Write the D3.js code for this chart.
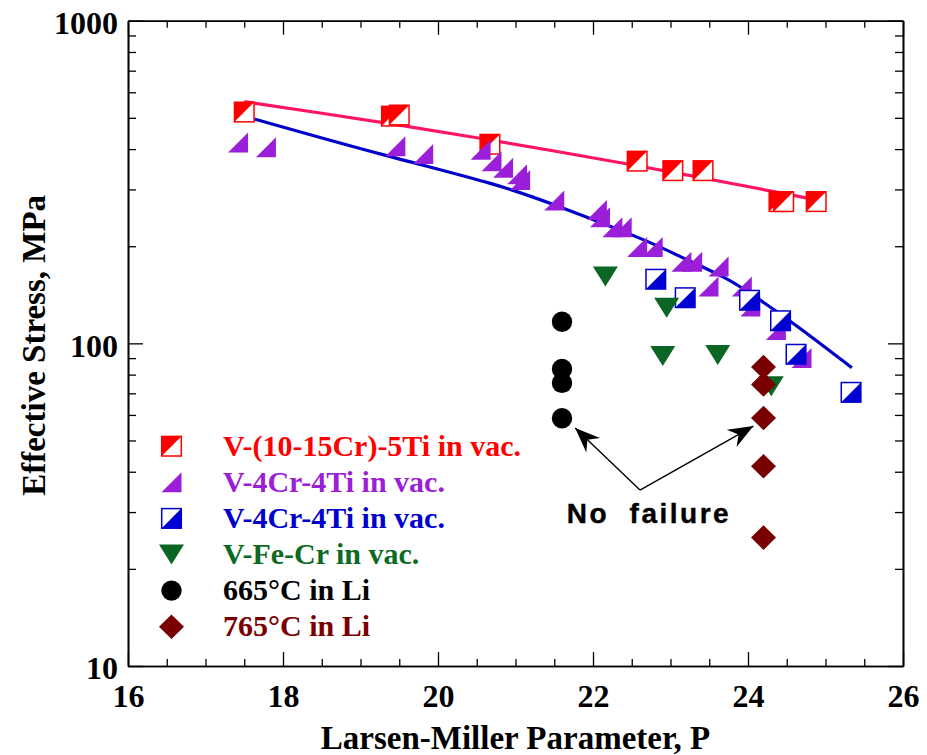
<!DOCTYPE html>
<html>
<head>
<meta charset="utf-8">
<script src="https://cdn.jsdelivr.net/npm/d3@7/dist/d3.min.js"></script>
<style>
  body { margin: 0; background: #fff; }
  svg { display: block; }
</style>
</head>
<body>
<svg id="chart" width="927" height="755"></svg>
<script>
// ---- Data: Larsen-Miller parameter (P) vs effective stress (MPa) ----
const redP   = [17.50, 19.40, 19.50, 20.67, 22.57, 23.03, 23.42, 24.40, 24.46, 24.88];
const redS   = [521, 506, 510, 414, 367, 343, 343, 275, 275, 275];

const purpleP = [17.42, 17.78, 19.45, 19.81, 20.55, 20.69, 20.84, 21.02, 21.06, 21.50,
                 22.05, 22.09, 22.25, 22.37, 22.57, 22.77, 23.14, 23.28, 23.62, 23.49,
                 23.92, 24.03, 24.36, 24.69];
const purpleS = [419, 405, 408, 386, 398, 367, 350, 334, 321, 277,
                 259, 246, 229, 229, 199, 199, 179, 179, 173, 150,
                 150, 130, 110, 90];

const blueP  = [22.81, 23.19, 24.02, 24.42, 24.62, 25.33];
const blueS  = [158, 138.5, 136, 117.5, 92.5, 70.5];

const greenP = [22.16, 22.95, 22.90, 23.61, 24.30];
const greenS = [161, 129, 91.4, 92, 73.6];

const liLowP = [21.60, 21.60, 21.60, 21.60];          // 665°C in Li
const liLowS = [116.7, 83.3, 75.4, 58.6];

const liHighP = [24.20, 24.20, 24.20, 24.20, 24.20];  // 765°C in Li
const liHighS = [84.5, 74.6, 58.7, 41.6, 25.0];

// fitted trend curves
const redFitP  = [17.5, 18.5, 19.5, 20.5, 21.5, 22.5, 23.5, 24.5, 24.9];
const redFitS  = [561, 517, 475, 434, 395, 358, 323, 290, 278];
const blueFitP = [17.63, 19.27, 20.80, 21.45, 22.69, 23.16, 23.73, 23.90, 24.54, 25.34];
const blueFitS = [496, 384, 310, 272, 209, 184, 159, 150, 118, 84];

// axes
const xMajorTicks = [16, 18, 20, 22, 24, 26];
const xMinorTicks = d3.range(16.5, 26, 0.5).filter(v => v % 2 !== 0);
const yMajorTicks = [10, 100, 1000];
const yMinorTicks = [20, 30, 40, 50, 60, 70, 80, 90, 200, 300, 400, 500, 600, 700, 800, 900];

// legend
const legendLabels = ["V-(10-15Cr)-5Ti in vac.", "V-4Cr-4Ti in vac.", "V-4Cr-4Ti in vac.",
                      "V-Fe-Cr in vac.", "665\u00B0C in Li", "765\u00B0C in Li"];
const legendColors = ["#ff0000", "#9b1fd6", "#0000cc", "#0c6a22", "#000000", "#780000"];
const markerColors = ["#ff0000", "#9b1fd9", "#0000d2", "#0b6623", "#000000", "#780000"];
const markerTypes  = ["squareUL", "rightTri", "squareLR", "downTri", "circle", "diamond"];

// annotation
const noteText = "No  failure";
const noteP = 21.66, noteS = 27.7;
const arrowFromP = 22.606, arrowFromS = 35.1;
const arrowTipsP = [21.77, 24.07];
const arrowTipsS = [54.7, 55.4];

// ---- Layout ----
const svg = d3.select("#chart");
const plotL = 128, plotR = 903, plotT = 20.7, plotB = 666;
const x = d3.scaleLinear().domain([16, 26]).range([plotL, plotR]);
const y = d3.scaleLog().domain([10, 1000]).range([plotB, plotT]);

const fontSerif = '"Liberation Serif", "Times New Roman", serif';

// ---- Axes (ticks point inward on all four sides) ----
function styleAxis(g) {
  g.selectAll("path.domain").attr("stroke", "#000").attr("stroke-width", 1.6);
  g.selectAll(".tick line").attr("stroke", "#000").attr("stroke-width", 1.3);
}

svg.append("g").attr("transform", `translate(0,${plotB})`)
  .call(d3.axisBottom(x).tickValues(xMinorTicks).tickSize(-7).tickSizeOuter(0).tickFormat(""))
  .call(styleAxis);
const xb = svg.append("g").attr("transform", `translate(0,${plotB})`)
  .call(d3.axisBottom(x).tickValues(xMajorTicks).tickSize(-14).tickSizeOuter(0).tickFormat(d3.format("d")))
  .call(styleAxis);
xb.selectAll(".tick text")
  .attr("y", 41).attr("dy", 0)
  .attr("font-family", fontSerif).attr("font-weight", "bold").attr("font-size", 32).attr("fill", "#000");

svg.append("g").attr("transform", `translate(0,${plotT})`)
  .call(d3.axisTop(x).tickValues(xMinorTicks).tickSize(-7).tickSizeOuter(0).tickFormat(""))
  .call(styleAxis);
svg.append("g").attr("transform", `translate(0,${plotT})`)
  .call(d3.axisTop(x).tickValues(xMajorTicks).tickSize(-14).tickSizeOuter(0).tickFormat(""))
  .call(styleAxis);

svg.append("g").attr("transform", `translate(${plotL},0)`)
  .call(d3.axisLeft(y).tickValues(yMinorTicks).tickSize(-8).tickSizeOuter(0).tickFormat(""))
  .call(styleAxis);
const yl = svg.append("g").attr("transform", `translate(${plotL},0)`)
  .call(d3.axisLeft(y).tickValues(yMajorTicks).tickSize(-15).tickSizeOuter(0).tickPadding(10).tickFormat(d3.format("d")))
  .call(styleAxis);
yl.selectAll(".tick text")
  .attr("dy", "0.4em")
  .attr("font-family", fontSerif).attr("font-weight", "bold").attr("font-size", 32).attr("fill", "#000");

svg.append("g").attr("transform", `translate(${plotR},0)`)
  .call(d3.axisRight(y).tickValues(yMinorTicks).tickSize(-8).tickSizeOuter(0).tickFormat(""))
  .call(styleAxis);
svg.append("g").attr("transform", `translate(${plotR},0)`)
  .call(d3.axisRight(y).tickValues(yMajorTicks).tickSize(-15).tickSizeOuter(0).tickFormat(""))
  .call(styleAxis);

// axis titles
svg.append("text")
  .attr("x", (plotL + plotR) / 2).attr("y", 749)
  .attr("text-anchor", "middle")
  .attr("font-family", fontSerif).attr("font-weight", "bold").attr("font-size", 33)
  .text("Larsen-Miller Parameter, P");

svg.append("text")
  .attr("transform", `translate(45,${(plotT + plotB) / 2 + 2}) rotate(-90)`)
  .attr("text-anchor", "middle")
  .attr("font-family", fontSerif).attr("font-weight", "bold").attr("font-size", 33)
  .text("Effective Stress, MPa");

// ---- Trend curves ----
const line = d3.line().x(d => x(d[0])).y(d => y(d[1])).curve(d3.curveBasis);
svg.append("path")
  .datum(d3.zip(redFitP, redFitS))
  .attr("d", line).attr("fill", "none").attr("stroke", "#ff1466").attr("stroke-width", 3.2);
svg.append("path")
  .datum(d3.zip(blueFitP, blueFitS))
  .attr("d", line).attr("fill", "none").attr("stroke", "#0000cc").attr("stroke-width", 3.2);

// ---- Marker shapes ----
function drawMarker(g, type, color) {
  const h = 9.8;
  if (type === "squareUL" || type === "squareLR") {
    g.append("rect").attr("x", -h).attr("y", -h).attr("width", 2 * h).attr("height", 2 * h)
      .attr("fill", "#fff").attr("stroke", color).attr("stroke-width", 1.5);
    const p = type === "squareUL"
      ? `M${-h},${-h}L${h},${-h}L${-h},${h}Z`
      : `M${h},${-h}L${h},${h}L${-h},${h}Z`;
    g.append("path").attr("d", p).attr("fill", color);
  } else if (type === "rightTri") {
    g.append("path").attr("d", "M-10,10L10,10L10,-10Z").attr("fill", color);
  } else if (type === "downTri") {
    g.append("path").attr("d", "M-12.5,-10L12.5,-10L0,10Z").attr("fill", color);
  } else if (type === "circle") {
    g.append("circle").attr("r", 10.2).attr("fill", color);
  } else if (type === "diamond") {
    g.append("path").attr("d", "M0,-12.3L12.5,0L0,12.3L-12.5,0Z").attr("fill", color);
  }
}

function drawSeries(P, S, type, color) {
  const g = svg.append("g");
  d3.zip(P, S).forEach(([p, s]) => {
    const m = g.append("g").attr("transform", `translate(${x(p)},${y(s)})`);
    drawMarker(m, type, color);
  });
}

drawSeries(redP, redS, markerTypes[0], markerColors[0]);
drawSeries(purpleP, purpleS, markerTypes[1], markerColors[1]);
drawSeries(blueP, blueS, markerTypes[2], markerColors[2]);
drawSeries(greenP, greenS, markerTypes[3], markerColors[3]);
drawSeries(liLowP, liLowS, markerTypes[4], markerColors[4]);
drawSeries(liHighP, liHighS, markerTypes[5], markerColors[5]);

// ---- Legend ----
const legend = svg.append("g");
legendLabels.forEach((label, i) => {
  const base = 455.7 + i * 36.1;
  const m = legend.append("g").attr("transform", `translate(171.5,${base - 9.5})`);
  drawMarker(m, markerTypes[i], markerColors[i]);
  legend.append("text")
    .attr("x", 223).attr("y", base)
    .attr("font-family", fontSerif).attr("font-weight", "bold").attr("font-size", 30)
    .attr("fill", legendColors[i])
    .text(label);
});

// ---- "No failure" annotation with arrows ----
const defs = svg.append("defs");
defs.append("marker")
  .attr("id", "arrowhead").attr("markerUnits", "userSpaceOnUse")
  .attr("viewBox", "-26 -11 28 22").attr("refX", 0).attr("refY", 0)
  .attr("markerWidth", 28).attr("markerHeight", 22).attr("orient", "auto")
  .append("path").attr("d", "M0,0L-25,-10L-17,0L-25,10Z").attr("fill", "#000");

arrowTipsP.forEach((tp, i) => {
  svg.append("line")
    .attr("x1", x(arrowFromP)).attr("y1", y(arrowFromS))
    .attr("x2", x(tp)).attr("y2", y(arrowTipsS[i]))
    .attr("stroke", "#000").attr("stroke-width", 1.4)
    .attr("marker-end", "url(#arrowhead)");
});

svg.append("text")
  .attr("x", x(noteP)).attr("y", y(noteS))
  .attr("font-family", '"Liberation Sans", Arial, sans-serif').attr("font-weight", "bold")
  .attr("font-size", 28).attr("textLength", 162).attr("lengthAdjust", "spacing")
  .attr("stroke", "#000").attr("stroke-width", 0.4)
  .style("white-space", "pre")
  .text(noteText);
</script>
</body>
</html>
